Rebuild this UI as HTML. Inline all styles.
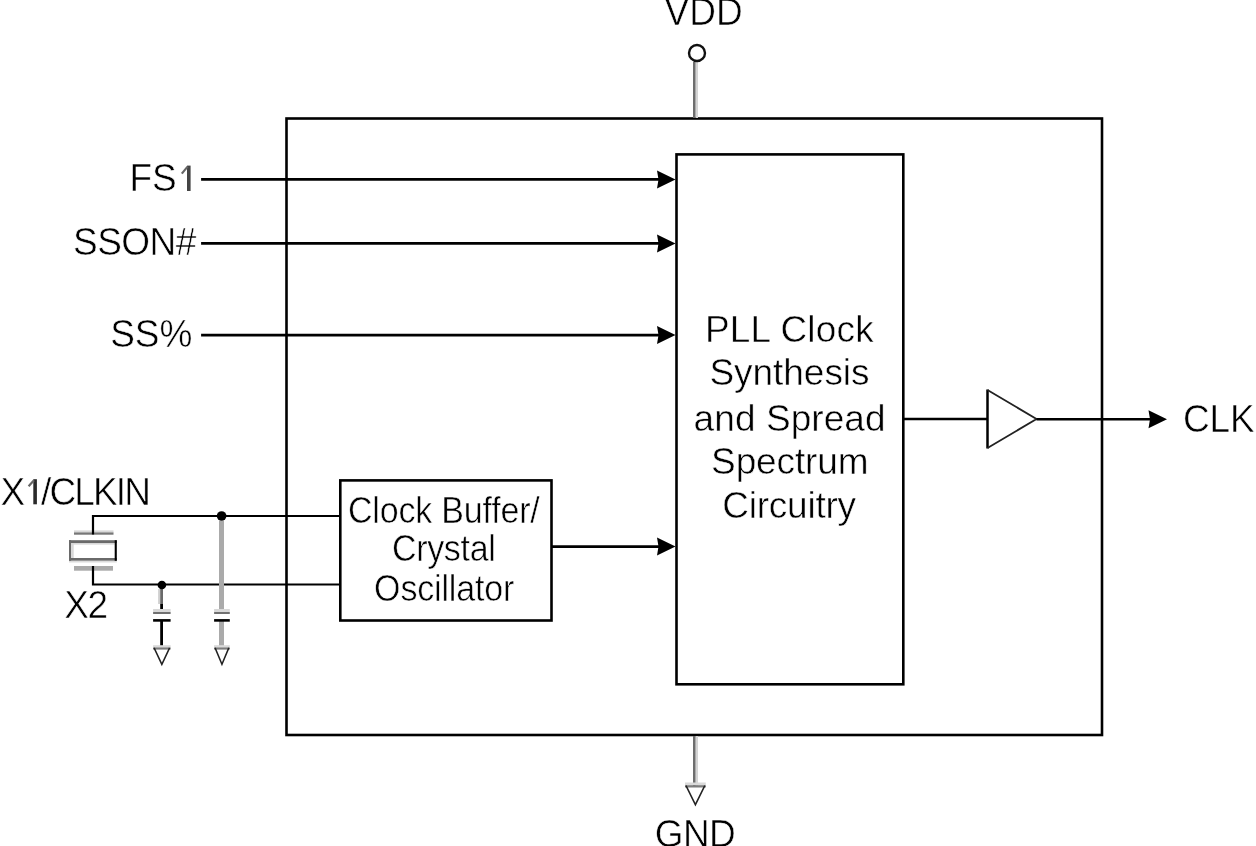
<!DOCTYPE html>
<html><head><meta charset="utf-8"><style>
html,body{margin:0;padding:0;background:#fff;width:1256px;height:846px;overflow:hidden}
svg{display:block;will-change:transform;font-family:"Liberation Sans", sans-serif}
</style></head><body>
<svg width="1256" height="846" viewBox="0 0 1256 846">
<rect width="1256" height="846" fill="#fff"/>
<rect x="286.5" y="118.5" width="815.5" height="616.5" fill="none" stroke="#000" stroke-width="2.6"/>
<rect x="676.5" y="154.4" width="226.8" height="529.9" fill="none" stroke="#000" stroke-width="2.6"/>
<rect x="340.3" y="480.4" width="211.2" height="140.1" fill="none" stroke="#000" stroke-width="2.6"/>
<rect x="693" y="62" width="2.7" height="56" fill="#6e6e6e"/><rect x="695.7" y="62" width="2.3" height="56" fill="#d4d4d4"/>
<circle cx="697" cy="53" r="8" fill="none" stroke="#111" stroke-width="2.4"/>
<rect x="693" y="736" width="2.7" height="50" fill="#6e6e6e"/><rect x="695.7" y="736" width="2.3" height="50" fill="#d4d4d4"/>
<rect x="685" y="782.5" width="20.799999999999955" height="2.7000000000000455" fill="#dadada"/>
<rect x="685" y="785.2" width="20.799999999999955" height="2.2999999999999545" fill="#7c7c7c"/>
<path d="M686 785.7 L695.4 804.7 L704.8 785.7" fill="none" stroke="#222" stroke-width="1.5"/>
<line x1="201.1" y1="179.4" x2="663.5" y2="179.4" stroke="#000" stroke-width="2.6"/>
<path d="M675.5 179.4 L657.0 170.4 L658.5 179.4 L657.0 188.4 Z" fill="#000"/>
<line x1="201.1" y1="243.4" x2="663.5" y2="243.4" stroke="#000" stroke-width="2.6"/>
<path d="M675.5 243.4 L657.0 234.4 L658.5 243.4 L657.0 252.4 Z" fill="#000"/>
<line x1="201.1" y1="335.1" x2="663.5" y2="335.1" stroke="#000" stroke-width="2.6"/>
<path d="M675.5 335.1 L657.0 326.1 L658.5 335.1 L657.0 344.1 Z" fill="#000"/>
<line x1="551.5" y1="546.6" x2="663.5" y2="546.6" stroke="#000" stroke-width="2.6"/>
<path d="M675.5 546.6 L657.0 537.6 L658.5 546.6 L657.0 555.6 Z" fill="#000"/>
<line x1="903.3" y1="419" x2="987.5" y2="419" stroke="#000" stroke-width="2.6"/>
<line x1="987.5" y1="389.5" x2="987.5" y2="448.5" stroke="#000" stroke-width="2.5"/>
<path d="M987.5 390 L1036.5 419 L987.5 448" fill="none" stroke="#222" stroke-width="1.8"/>
<line x1="1036.5" y1="419.2" x2="1152" y2="419.2" stroke="#000" stroke-width="2.6"/>
<path d="M1167 419.2 L1148.5 410.2 L1150 419.2 L1148.5 428.2 Z" fill="#000"/>
<rect x="74" y="530.4" width="39.5" height="2" fill="#d8d8d8"/><rect x="74" y="532.4" width="39.5" height="2.3" fill="#777"/>
<rect x="74" y="566" width="39" height="4.7" fill="#aaa"/>
<rect x="69" y="540.2" width="47.8" height="2.8" fill="#6a6a6a"/><rect x="71" y="543" width="43.7" height="1.6" fill="#d8d8d8"/>
<rect x="69" y="558" width="47.8" height="2.8" fill="#6a6a6a"/><rect x="69" y="560.8" width="47.8" height="1.7" fill="#dcdcdc"/>
<rect x="69" y="540.2" width="2.1" height="20.6" fill="#6a6a6a"/><rect x="71.1" y="543" width="2.6" height="15" fill="#d8d8d8"/>
<rect x="114.7" y="540.2" width="2.1" height="20.6" fill="#000"/>
<path d="M340.3 516 L93 516 L93 534.6" fill="none" stroke="#000" stroke-width="2.2"/>
<path d="M340.3 584.5 L93 584.5 L93 566" fill="none" stroke="#000" stroke-width="2.2"/>
<rect x="219" y="521" width="5" height="91" fill="#aaa"/>
<rect x="219" y="621" width="5" height="25" fill="#aaa"/>
<rect x="158.1" y="589" width="2.1" height="15" fill="#d0d0d0"/><rect x="160.2" y="589" width="2.8" height="15" fill="#6a6a6a"/>
<rect x="160.2" y="604" width="2.8" height="8" fill="#000"/>
<rect x="160.2" y="621" width="2.8" height="25" fill="#000"/>
<rect x="153.1" y="609" width="17.5" height="3" fill="#d8d8d8"/><rect x="153.1" y="612" width="17.5" height="2" fill="#707070"/>
<rect x="153.1" y="619.1" width="17.5" height="2.6" fill="#000"/>
<rect x="153.1" y="645.2" width="17.5" height="2.199999999999932" fill="#dadada"/>
<rect x="153.1" y="647.4" width="17.5" height="2.2000000000000455" fill="#7c7c7c"/>
<path d="M154.1 647.9 L161.85 664.4000000000001 L169.6 647.9" fill="none" stroke="#222" stroke-width="1.5"/>
<rect x="214.1" y="609" width="15.700000000000017" height="3" fill="#d8d8d8"/><rect x="214.1" y="612" width="15.700000000000017" height="2" fill="#707070"/>
<rect x="214.1" y="619.1" width="15.700000000000017" height="2.6" fill="#000"/>
<rect x="214.1" y="645.2" width="15.700000000000017" height="2.199999999999932" fill="#dadada"/>
<rect x="214.1" y="647.4" width="15.700000000000017" height="2.2000000000000455" fill="#7c7c7c"/>
<path d="M215.1 647.9 L221.95 664.4000000000001 L228.8 647.9" fill="none" stroke="#222" stroke-width="1.5"/>
<circle cx="221.6" cy="516" r="4.8" fill="#000"/>
<circle cx="161.9" cy="585" r="4.3" fill="#000"/>
<rect x="187" y="165.6" width="3.6" height="25.4" fill="#444"/>
<path d="M187.6 166.6 L181.8 173.6" stroke="#666" stroke-width="2.2" fill="none"/>
<rect x="33.3" y="479.2" width="3.6" height="25.1" fill="#2a2a2a"/>
<path d="M34 480.2 L28.6 486.2" stroke="#666" stroke-width="2.2" fill="none"/>
<text transform="translate(664.40 24.90) scale(1 1.04)" font-size="37" letter-spacing="0.150" fill="#000" stroke="#fff" stroke-width="0.5">VDD</text>
<text transform="translate(129.40 191.00) scale(1 1.04)" font-size="37" letter-spacing="0.100" fill="#000" stroke="#fff" stroke-width="0.5">FS</text>
<text transform="translate(73.00 255.20) scale(1 1.04)" font-size="37" letter-spacing="-0.500" fill="#000" stroke="#fff" stroke-width="0.5">SSON#</text>
<text transform="translate(110.30 346.90) scale(1 1.04)" font-size="37" letter-spacing="-0.100" fill="#000" stroke="#fff" stroke-width="0.5">SS%</text>
<text transform="translate(0.40 505.00) scale(1 1.04)" font-size="37" letter-spacing="0.000" fill="#000" stroke="#fff" stroke-width="0.5">X</text>
<text transform="translate(41.00 505.00) scale(1 1.04)" font-size="37" letter-spacing="-1.840" fill="#000" stroke="#fff" stroke-width="0.5">/CLKIN</text>
<text transform="translate(64.20 617.60) scale(1 1.04)" font-size="37" letter-spacing="-1.300" fill="#000" stroke="#fff" stroke-width="0.5">X2</text>
<text transform="translate(1182.90 431.80) scale(1 1.04)" font-size="37" letter-spacing="-0.100" fill="#000" stroke="#fff" stroke-width="0.5">CLK</text>
<text transform="translate(654.70 846.90) scale(1 1.04)" font-size="37" letter-spacing="-0.550" fill="#000" stroke="#fff" stroke-width="0.5">GND</text>
<text transform="translate(347.90 522.50) scale(1 1.09)" font-size="34" letter-spacing="-0.167" fill="#000" stroke="#fff" stroke-width="0.5">Clock Buffer/</text>
<text transform="translate(391.90 560.80) scale(1 1.09)" font-size="34" letter-spacing="-0.300" fill="#000" stroke="#fff" stroke-width="0.5">Crystal</text>
<text transform="translate(374.10 601.20) scale(1 1.09)" font-size="34" letter-spacing="-0.156" fill="#000" stroke="#fff" stroke-width="0.5">Oscillator</text>
<text transform="translate(705.00 342.20) scale(1 0.995)" font-size="37" letter-spacing="0.188" fill="#000" stroke="#fff" stroke-width="0.5">PLL Clock</text>
<text transform="translate(709.40 385.30) scale(1 0.995)" font-size="37" letter-spacing="-0.025" fill="#000" stroke="#fff" stroke-width="0.5">Synthesis</text>
<text transform="translate(693.60 430.90) scale(1 0.995)" font-size="37" letter-spacing="0.078" fill="#000" stroke="#fff" stroke-width="0.5">and Spread</text>
<text transform="translate(711.10 473.90) scale(1 0.995)" font-size="37" letter-spacing="-0.129" fill="#000" stroke="#fff" stroke-width="0.5">Spectrum</text>
<text transform="translate(722.30 517.80) scale(1 0.995)" font-size="37" letter-spacing="-0.237" fill="#000" stroke="#fff" stroke-width="0.5">Circuitry</text>
</svg>
</body></html>
